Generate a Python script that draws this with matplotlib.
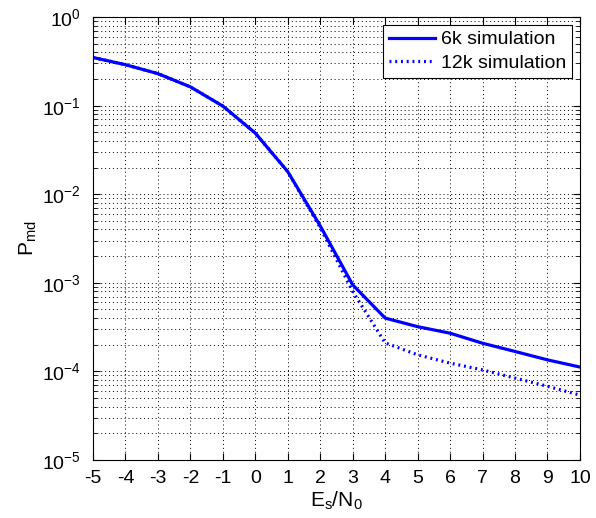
import matplotlib
matplotlib.use("Agg")
import matplotlib.pyplot as plt
from matplotlib.ticker import LogLocator, NullFormatter

plt.rcParams['font.family'] = ['Liberation Sans', 'DejaVu Sans']
plt.rcParams['mathtext.default'] = 'regular'
plt.rcParams['axes.unicode_minus'] = False

# Dane: prawdopodobienstwo pominiecia w funkcji Es/N0
esn0 = [-5, -4, -3, -2, -1, 0, 1, 2, 3, 4, 5, 6, 7, 8, 9, 10]
pmd_6k = [0.35, 0.29, 0.23, 0.163, 0.099, 0.049, 0.018, 0.0044, 0.00095,
          0.0004, 0.00032, 0.00027, 0.000208, 0.000168, 0.000135, 0.000112]
pmd_12k = [0.35, 0.29, 0.23, 0.163, 0.099, 0.049, 0.018, 0.0042, 0.0008,
           0.00021, 0.000154, 0.000124, 0.000104, 0.000084, 0.000068, 0.000054]

fig = plt.figure(figsize=(5.96, 5.18), dpi=100)
ax = fig.add_axes([0.156, 0.112, 0.817, 0.855])

ax.semilogy(esn0, pmd_6k, color="blue", linewidth=2.3, label="6k simulation")
ax.semilogy(esn0, pmd_12k, color="blue", linewidth=2.3, linestyle=(0, (0.6, 1.2)),
            label="12k simulation")

ax.set_xlim(-5, 10)
ax.set_ylim(1e-5, 1)
ax.set_xticks(esn0)
ax.yaxis.set_major_locator(LogLocator(base=10, numticks=10))
ax.yaxis.set_minor_locator(LogLocator(base=10, subs=range(2, 10), numticks=20))
ax.yaxis.set_minor_formatter(NullFormatter())

ax.tick_params(which="both", direction="in", top=True, right=True, labelsize=14)
ax.tick_params(which="major", length=5)
ax.tick_params(which="minor", length=3)
ax.tick_params(axis="x", pad=7)
ax.tick_params(axis="y", pad=9)
ax.grid(True, which="major", color="black", linestyle=(0, (1, 3)), linewidth=0.7)
ax.grid(True, which="minor", axis="y", color="black", linestyle=(0, (1, 3)), linewidth=0.7)

ax.set_xlabel("E$_s$/N$_0$", fontsize=15, labelpad=2)
ax.set_ylabel("P$_{md}$", fontsize=15, labelpad=2)

leg = ax.legend(loc="upper right", fontsize=14, fancybox=False, framealpha=1,
                edgecolor="black", handlelength=2.4, borderaxespad=0.4,
                handletextpad=0.3, borderpad=0.3, labelspacing=0.3)
leg.get_frame().set_linewidth(0.8)

plt.savefig("out.png", dpi=100)
